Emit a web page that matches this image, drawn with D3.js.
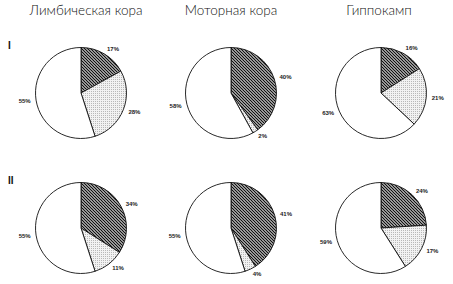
<!DOCTYPE html>
<html>
<head>
<meta charset="utf-8">
<script src="https://cdn.jsdelivr.net/npm/d3@7"></script>
<style>
  body { margin: 0; background: #fff; }
  svg { display: block; }
</style>
</head>
<body>
<svg width="453" height="284"></svg>
<script>
// данные: отделы мозга, серии (строки I и II), доли в процентах
const regions = ["Лимбическая кора", "Моторная кора", "Гиппокамп"];
const rows = ["I", "II"];
const parts = ["hatch", "dots", "empty"];  // по часовой стрелке с 12 часов

const seriesI  = [[17, 28, 55], [40, 2, 58], [16, 21, 63]];
const seriesII = [[34, 11, 55], [41, 4, 55], [24, 17, 59]];
const values = { I: seriesI, II: seriesII };

const width = 453, height = 284;
const r = 45.5;

const svg = d3.select("svg");

// узоры: штриховка и точки
const defs = svg.append("defs");
const hatch = defs.append("pattern")
    .attr("id", "hatch")
    .attr("patternUnits", "userSpaceOnUse")
    .attr("width", 3).attr("height", 3);
hatch.append("rect").attr("width", 3).attr("height", 3).attr("fill", "#fff");
hatch.append("path")
    .attr("d", "M0,0L3,3M-1,2L1,4M2,-1L4,1")
    .attr("stroke", "#111")
    .attr("stroke-width", 1.25);

const dots = defs.append("pattern")
    .attr("id", "dots")
    .attr("patternUnits", "userSpaceOnUse")
    .attr("width", 2).attr("height", 2);
dots.append("rect").attr("width", 2).attr("height", 2).attr("fill", "#f2f2f2");
dots.append("rect").attr("width", 1).attr("height", 1).attr("fill", "#b8b8b8");

const fill = d3.scaleOrdinal()
    .domain(parts)
    .range(["url(#hatch)", "url(#dots)", "#fff"]);

// расположение кругов
const x = d3.scalePoint().domain(regions).range([81, 381]);
const y = d3.scalePoint().domain(rows).range([93, 228]);

const pie = d3.pie().sort(null).value(d => d);
const arc = d3.arc().innerRadius(0).outerRadius(r);

// заголовки
svg.selectAll("text.title")
    .data(regions)
    .enter()
    .append("text")
    .attr("class", "title")
    .attr("x", (d, i) => x(d) + [5, 0, -2][i])
    .attr("y", 15)
    .attr("text-anchor", "middle")
    .attr("font-family", "Lato, 'Noto Sans', sans-serif")
    .attr("font-weight", 300)
    .attr("font-size", 13.5)
    .attr("fill", "#111")
    .text(d => d);

// римские цифры строк
svg.selectAll("text.row")
    .data(rows)
    .enter()
    .append("text")
    .attr("class", "row")
    .attr("x", 8)
    .attr("y", d => y(d) - 44)
    .attr("font-family", "'Liberation Sans', Arial, sans-serif")
    .attr("font-weight", "bold")
    .attr("font-size", 10)
    .attr("fill", "#111")
    .text(d => d);

rows.forEach(row => {
    regions.forEach((reg, i) => {
        const g = svg.append("g")
            .attr("transform", `translate(${x(reg)},${y(row)})`);

        const arcs = pie(values[row][i]);

        g.selectAll("path")
            .data(arcs)
            .enter()
            .append("path")
            .attr("d", arc)
            .attr("fill", (d, k) => fill(parts[k]))
            .attr("stroke", "#111")
            .attr("stroke-width", 0.9)
            .attr("stroke-linejoin", "round");

        // подписи процентов снаружи, по середине сектора
        g.selectAll("text")
            .data(arcs)
            .enter()
            .append("text")
            .attr("x", d => Math.sin((d.startAngle + d.endAngle) / 2) * (r + 5.5))
            .attr("y", d => -Math.cos((d.startAngle + d.endAngle) / 2) * (r + 5.5))
            .attr("dy", "0.35em")
            .attr("text-anchor", d => (d.startAngle + d.endAngle) / 2 > Math.PI ? "end" : "start")
            .attr("font-family", "'Liberation Sans', Arial, sans-serif")
            .attr("font-weight", "bold")
            .attr("font-size", 6)
            .attr("fill", "#222")
            .text(d => d.value + "%");
    });
});
</script>
</body>
</html>
